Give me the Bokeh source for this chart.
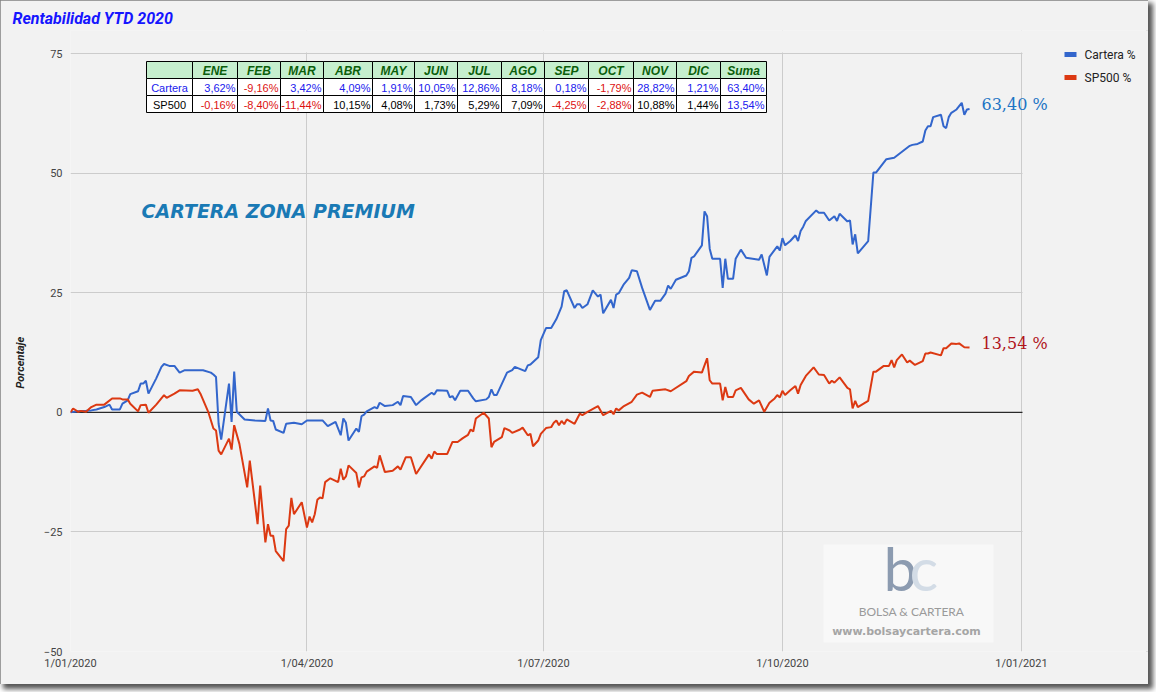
import pandas as pd
from bokeh.plotting import figure
from bokeh.models import Range1d, FixedTicker, Span, Label, BoxAnnotation, Title
from bokeh.core.properties import value
from bokeh.embed import file_html
from bokeh.resources import INLINE

# ---------------- data ----------------
inicio = pd.Timestamp("2020-01-01")

# day offsets from 1 Jan 2020 and cumulative YTD return (%)
dias_cartera = [0, 3, 6, 8, 10, 13, 15, 16, 19, 20, 22, 23, 26, 27, 28, 29, 30, 33, 35, 36, 38, 40, 42, 44, 51, 54, 55, 56, 57, 58,
                61, 62, 63, 64, 67, 71, 75, 76, 77, 78, 79, 82, 83, 86, 89, 91, 97, 99, 102, 104, 105, 106, 107, 110, 111, 112, 113,
                114, 117, 118, 119, 121, 124, 126, 127, 128, 131, 133, 135, 136, 139, 140, 141, 145, 146, 147, 148, 150, 153, 155,
                156, 160, 161, 162, 163, 164, 168, 170, 171, 175, 176, 177, 180, 181, 183, 185, 187, 189, 190, 191, 194, 195, 196,
                197, 199, 201, 203, 204, 205, 208, 209, 210, 211, 213, 215, 216, 218, 220, 223, 225, 227, 229, 230, 231, 233, 237,
                238, 239, 240, 243, 244, 245, 246, 247, 250, 251, 252, 253, 255, 256, 258, 260, 265, 266, 268, 269, 272, 273, 274,
                275, 277, 279, 280, 281, 282, 283, 287, 288, 290, 292, 294, 295, 296, 299, 300, 301, 302, 303, 307, 309, 310, 314,
                317, 323, 324, 326, 328, 329, 330, 331, 332, 335, 336, 337, 338, 339, 341, 343, 344, 345, 346]
cartera = [0.0, 0.2, 0.3, 0.4, 0.6, 1.1, 1.6, 0.6, 0.6, 1.8, 2.5, 3.8, 4.4, 6.0, 6.0, 6.6, 3.9, 7.1, 9.5, 10.1, 9.7, 9.7, 8.3, 8.8, 8.8, 8.3, 7.9, 7.4, -2.4, -5.7,
           6.0, -2.0, 8.5, 0.1, -1.5, -1.7, -1.8, 0.8, -1.7, -1.8, -3.6, -4.3, -2.4, -2.2, -2.5, -1.7, -1.7, -2.9, -2.0, -4.8, -1.3, -2.2, -5.9, -3.4, -4.1, -0.8, -0.5,
           0.2, 1.1, 0.8, 2.0, 1.3, 1.5, 2.2, 1.5, 3.4, 3.2, 1.5, 2.5, 2.9, 4.1, 3.7, 4.6, 4.5, 3.1, 3.4, 2.5, 4.5, 4.5, 2.9,
           2.3, 2.7, 3.2, 4.8, 3.6, 3.6, 8.3, 8.8, 9.5, 8.6, 9.8, 10.0, 11.5, 15.1, 17.6, 17.6, 19.5, 22.1, 25.3, 25.5, 21.8, 22.6, 22.6,
           21.8, 22.6, 25.5, 24.2, 24.6, 20.7, 23.5, 21.8, 24.6, 24.9, 26.8, 28.1, 29.7, 29.5, 26.0, 21.4, 23.3, 23.3, 24.8, 26.5, 25.8, 27.7, 28.6,
           29.5, 32.3, 32.6, 34.9, 42.0, 41.0, 34.2, 32.1, 32.1, 26.0, 32.1, 27.9, 27.9, 32.1, 34.0, 32.3, 31.9, 33.0, 28.6, 32.5, 34.7, 33.8, 36.4,
           34.9, 35.8, 37.0, 35.8, 37.9, 38.8, 40.0, 42.2, 41.7, 41.7, 40.1, 41.0, 40.0, 41.5, 39.9, 40.1, 35.1, 37.2, 33.2, 35.8, 50.1, 50.1, 52.9,
           53.2, 55.7, 55.9, 56.1, 56.6, 58.9, 59.8, 59.8, 61.7, 62.2, 59.8, 59.4, 61.7, 62.6, 63.3, 64.7, 62.2, 63.3, 63.4]

dias_sp500 = [0, 1, 3, 4, 6, 8, 10, 13, 16, 19, 20, 22, 23, 26, 27, 29, 30, 33, 36, 37, 40, 42, 47, 49, 50, 53, 55, 56, 57, 58,
              61, 62, 63, 65, 68, 69, 72, 73, 75, 76, 77, 78, 79, 82, 83, 84, 85, 86, 89, 91, 92, 93, 94, 95, 96, 97, 98, 100,
              103, 104, 105, 106, 107, 110, 111, 112, 113, 114, 117, 118, 119, 121, 124, 126, 127, 129, 131, 133, 138, 139, 140,
              141, 145, 147, 149, 151, 153, 154, 155, 156, 159, 161, 162, 163, 166, 167, 169, 170, 173, 174, 176, 177, 178, 180,
              181, 183, 185, 186, 187, 188, 189, 190, 191, 194, 196, 197, 199, 203, 205, 208, 209, 210, 211, 213, 216, 218, 220,
              223, 224, 229, 231, 237, 238, 240, 243, 245, 246, 247, 250, 251, 252, 253, 255, 256, 258, 261, 263, 265, 267, 269,
              271, 272, 273, 274, 275, 277, 279, 280, 281, 283, 286, 288, 290, 292, 293, 294, 296, 299, 300, 301, 302, 303, 307,
              309, 310, 313, 315, 316, 317, 318, 320, 322, 323, 325, 328, 329, 330, 331, 335, 336, 337, 339, 341, 342, 344, 346]
sp500 = [0.0, 0.8, 0.1, 0.3, 0.1, 1.1, 1.6, 1.6, 2.9, 2.9, 2.7, 2.7, 1.8, 0.2, 1.5, 1.6, -0.1, 1.6, 3.6, 3.0, 3.9, 4.6, 4.5, 4.8, 3.9, 0.1, -3.4, -3.8, -8.0, -8.8,
         -5.5, -7.8, -2.7, -6.6, -15.7, -10.1, -23.4, -15.3, -27.2, -23.4, -25.8, -25.8, -29.0, -31.1, -24.4, -23.7, -17.9, -21.3, -18.8, -24.1, -21.8, -23.0, -21.3, -18.3, -17.8, -18.0, -14.6, -13.8,
         -14.6, -11.8, -14.1, -13.4, -11.1, -12.7, -15.7, -13.6, -13.4, -12.4, -11.3, -11.6, -9.0, -12.5, -12.2, -11.3, -12.0, -9.4, -9.4, -12.9, -8.8, -9.7, -8.2,
         -8.7, -8.7, -6.2, -6.2, -5.4, -4.7, -3.6, -4.0, -1.3, -0.1, -1.3, -7.3, -6.2, -5.2, -3.3, -3.8, -4.3, -3.6, -3.2, -4.8, -4.5, -7.1, -5.9,
         -4.5, -3.3, -3.1, -2.2, -1.7, -2.7, -1.8, -2.5, -1.5, -2.4, -0.3, -0.6, 0.1, 1.3, -0.6, 0.3, -0.4, 0.8, 0.4, 1.3, 2.2, 3.7, 4.1,
         3.2, 4.5, 4.8, 4.4, 6.5, 7.6, 8.5, 8.3, 11.3, 6.7, 6.0, 6.0, 2.5, 5.3, 3.2, 3.2, 4.6, 5.1, 2.7, 1.8, 2.5, 0.1, 2.0,
         2.9, 3.6, 3.1, 4.5, 3.6, 4.6, 5.5, 3.9, 5.7, 7.6, 9.4, 7.9, 7.8, 6.0, 6.6, 6.2, 7.3, 5.1, 4.8, 0.8, 2.4, 1.1, 2.4,
         8.5, 8.5, 9.7, 9.7, 10.9, 9.4, 10.9, 12.1, 10.4, 10.8, 9.9, 10.7, 12.3, 12.3, 12.5, 11.9, 13.4, 13.4, 14.4, 14.3, 14.4, 13.6, 13.54]

meses = ["ENE", "FEB", "MAR", "ABR", "MAY", "JUN", "JUL", "AGO", "SEP", "OCT", "NOV", "DIC", "Suma"]
cartera_mes = [3.62, -9.16, 3.42, 4.09, 1.91, 10.05, 12.86, 8.18, 0.18, -1.79, 28.82, 1.21, 63.40]
sp500_mes = [-0.16, -8.40, -11.44, 10.15, 4.08, 1.73, 5.29, 7.09, -4.25, -2.88, 10.88, 1.44, 13.54]
filas_tabla = ["Cartera", "SP500"]
series = ["Cartera %", "SP500 %"]

ticks_x = ["2020-01-01", "2020-04-01", "2020-07-01", "2020-10-01", "2021-01-01"]
etiquetas_x = ["1/01/2020", "1/04/2020", "1/07/2020", "1/10/2020", "1/01/2021"]
ticks_y = [-50, -25, 0, 25, 50, 75]

# ---------------- layout constants ----------------
AZUL = "#3366cc"
ROJO = "#dc3912"
FONDO = "#f2f2f2"

W, H = 1148, 684
FL, FT, FB = 70, 30, 651     # drawing frame (extends to the right edge of the figure)
PL, PR, PT = 70, 1021, 53    # visible plotting area (gridded region) on the page

fechas_cartera = inicio + pd.to_timedelta(dias_cartera, unit="D")
fechas_sp500 = inicio + pd.to_timedelta(dias_sp500, unit="D")

t0, t1 = pd.Timestamp(ticks_x[0]), pd.Timestamp(ticks_x[-1])
x_end = t1 + (W - PR) * (t1 - t0) / (PR - PL)
y0, y1 = ticks_y[0], ticks_y[-1]
y_end = y1 + (PT - FT) * (y1 - y0) / (FB - PT)

p = figure(width=W, height=H, x_axis_type="datetime", output_backend="svg", toolbar_location=None,
           x_range=Range1d(t0, x_end), y_range=Range1d(y0, y_end),
           title="Rentabilidad YTD 2020",
           min_border_left=FL, min_border_right=0, min_border_top=FT, min_border_bottom=H - FB)
p.background_fill_color = FONDO
p.border_fill_color = FONDO
p.outline_line_color = None
p.styles = {"outline": "2px solid #808080", "outline-offset": "-2px",
            "box-shadow": "4px 4px 5px 1px #555555"}

p.title.align = "left"
p.title.offset = 12 - FL
p.title.standoff = 6
p.title.text_font = "Roboto"
p.title.text_font_style = "bold italic"
p.title.text_font_size = "16px"
p.title.text_color = "#1515ff"

tick_ms = [pd.Timestamp(t).value // 10**6 for t in ticks_x]
p.xaxis.ticker = FixedTicker(ticks=tick_ms)
p.xaxis.major_label_overrides = {ms: lab for ms, lab in zip(tick_ms, etiquetas_x)}
p.xgrid.ticker = FixedTicker(ticks=tick_ms)
p.yaxis.ticker = FixedTicker(ticks=ticks_y)
p.ygrid.ticker = FixedTicker(ticks=ticks_y)

for ax in (p.xaxis[0], p.yaxis[0]):
    ax.axis_line_color = None
    ax.major_tick_line_color = None
    ax.minor_tick_line_color = None
    ax.major_tick_out = 0
    ax.major_tick_in = 0
    ax.major_label_text_font = "Roboto"
    ax.major_label_text_font_size = "11px"
    ax.major_label_text_color = "#444444"
p.xaxis.major_label_standoff = 5
p.yaxis.major_label_standoff = 8

# vertical axis title (starts 263 px above the frame bottom)
p.add_layout(Title(text="Porcentaje", align="left", offset=263, vertical_align="top", standoff=24,
                   text_font="Roboto", text_font_style="bold italic", text_font_size="11px",
                   text_color="#222222"), "left")

p.xgrid.grid_line_color = "#cccccc"
p.ygrid.grid_line_color = "#cccccc"

p.add_layout(Span(location=0, dimension="width", line_color="black", line_width=1, level="underlay"))

p.line(fechas_cartera, cartera, line_color=AZUL, line_width=2)
p.line(fechas_sp500, sp500, line_color=ROJO, line_width=2)

# page-pixel helper ranges for annotations
p.extra_x_ranges = {"px": Range1d(FL, W)}
p.extra_y_ranges = {"px": Range1d(FB, FT)}

def box(**kw):
    p.add_layout(BoxAnnotation(x_range_name="px", y_range_name="px", line_alpha=0, fill_alpha=1, **kw))

# hide grid beyond the plotting area (right margin and top margin)
box(left=PR + 1, fill_color=FONDO)
box(bottom=PT - 1, fill_color=FONDO)

def fmt(v):
    return f"{v:.2f}".replace(".", ",") + "%"

# ---------------- table ----------------
bordes_col = [146, 192, 237, 280, 323, 372, 414, 457, 501, 544, 588, 633, 676, 720, 766]
bordes_fila = [61, 78, 95, 112]
L, R, T, B, C = [], [], [], [], []
for r in range(3):
    for c in range(14):
        L.append(bordes_col[c]); R.append(bordes_col[c + 1])
        T.append(bordes_fila[r]); B.append(bordes_fila[r + 1])
        C.append("#c6efce" if r == 0 else "white")
p.quad(left=L, right=R, top=T, bottom=B, fill_color=C, line_color="black", line_width=1,
       x_range_name="px", y_range_name="px")

hx = [(bordes_col[c] + bordes_col[c + 1]) / 2 for c in range(1, 14)]
hy = [(bordes_fila[0] + bordes_fila[1]) / 2 + 0.5] * 13
p.text(x=hx, y=hy, text=meses, text_align="center", text_baseline="middle",
       text_font=value("Liberation Sans"), text_font_style="bold italic", text_font_size="12px",
       text_color="#0b5e0b", x_range_name="px", y_range_name="px")

vx, vy, vt, vc = [], [], [], []
for r, serie in enumerate([cartera_mes, sp500_mes]):
    yc = (bordes_fila[r + 1] + bordes_fila[r + 2]) / 2 + 0.5
    for c, v in enumerate(serie):
        vx.append(bordes_col[c + 2] - 2)
        vy.append(yc)
        vt.append(fmt(v))
        if c == len(serie) - 1:
            vc.append("#2020ee")
        elif v < 0:
            vc.append("#dd1111")
        else:
            vc.append("#2020ee" if r == 0 else "black")
p.text(x=vx, y=vy, text=vt, text_align="right", text_baseline="middle",
       text_font=value("Liberation Sans"), text_font_size="11px", text_color=vc,
       x_range_name="px", y_range_name="px")
lx = [(bordes_col[0] + bordes_col[1]) / 2] * 2
ly = [(bordes_fila[1] + bordes_fila[2]) / 2 + 0.5, (bordes_fila[2] + bordes_fila[3]) / 2 + 0.5]
p.text(x=lx, y=ly, text=filas_tabla, text_align="center", text_baseline="middle",
       text_font=value("Liberation Sans"), text_font_size="11px", text_color=["#2020ee", "black"],
       x_range_name="px", y_range_name="px")

# ---------------- texts ----------------
def lab(x, y, text, **kw):
    p.add_layout(Label(x=x, y=y, text=text, x_range_name="px", y_range_name="px", **kw))

lab(141, 210, "CARTERA ZONA PREMIUM", text_font="DejaVu Sans", text_font_style="bold italic",
    text_font_size="19px", text_color="#1a7ab5", text_baseline="middle")
lab(981, 104, fmt(cartera_mes[-1]).replace("%", " %"), text_font="DejaVu Serif",
    text_font_size="16px", text_color="#1c74c4", text_baseline="middle")
lab(981, 343, fmt(sp500_mes[-1]).replace("%", " %"), text_font="DejaVu Serif",
    text_font_size="16px", text_color="#b0141a", text_baseline="middle")

# legend
for i, (nombre, col) in enumerate(zip(series, [AZUL, ROJO])):
    yy = 54 + 23 * i
    box(left=1064, right=1076, top=yy - 2.5, bottom=yy + 2.5, fill_color=col)
    lab(1084, yy, nombre, text_font="Roboto", text_font_size="12px", text_color="#222222", text_baseline="middle")

# watermark
box(left=823, right=993, top=544, bottom=642, fill_color="#f8f8f8")
lab(883, 567, "b", text_font="Lato", text_font_size="60px", text_color="#8c9bb0", text_baseline="middle")
lab(909, 567, "c", text_font="Lato", text_font_size="60px", text_color="#d3dce6", text_baseline="middle")
lab(911, 611, "BOLSA & CARTERA", text_font="Lato", text_font_size="12px", text_color="#9a9a9a",
    text_align="center", text_baseline="middle")
lab(906, 631, "www.bolsaycartera.com", text_font="DejaVu Sans", text_font_style="bold", text_font_size="11px",
    text_color="#a5a5a5", text_align="center", text_baseline="middle")

open("out.html", "w").write(file_html(p, INLINE))
